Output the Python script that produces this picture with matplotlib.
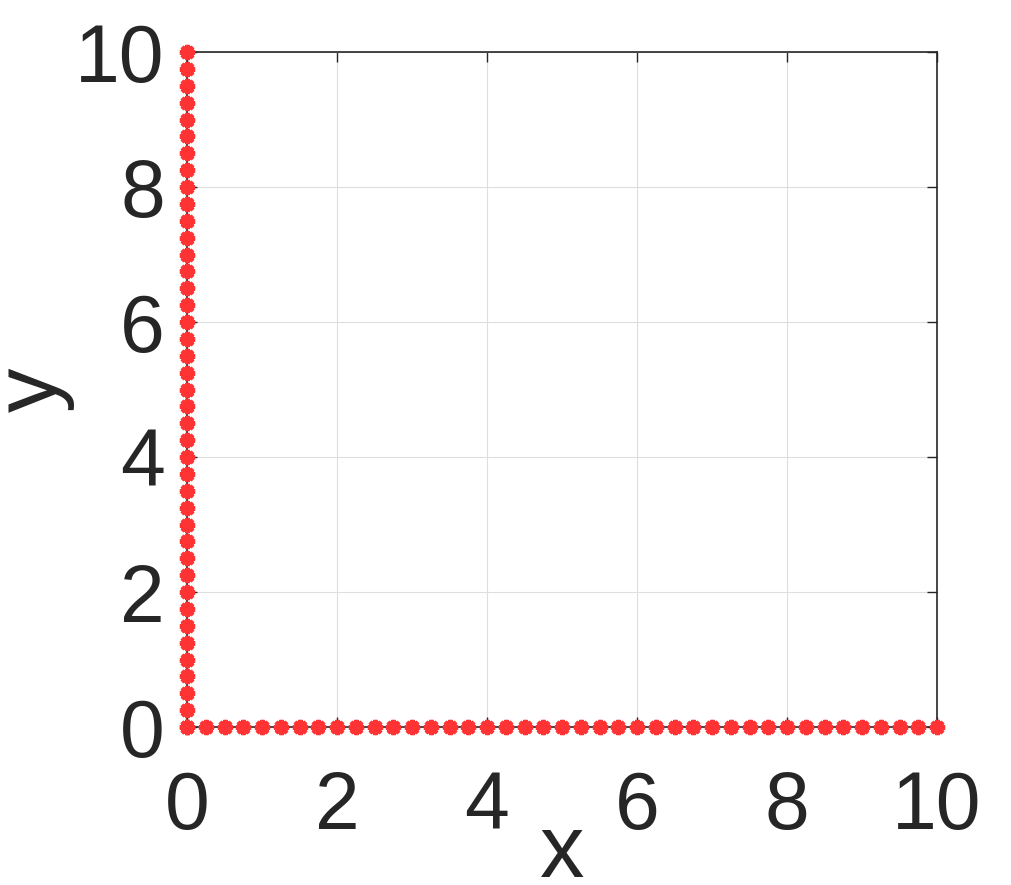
import matplotlib
matplotlib.use('Agg')
import matplotlib.pyplot as plt

# points along the y axis (x = 0) and along the x axis (y = 0)
steps = [0, 0.25, 0.5, 0.75, 1, 1.25, 1.5, 1.75, 2, 2.25, 2.5, 2.75,
         3, 3.25, 3.5, 3.75, 4, 4.25, 4.5, 4.75, 5, 5.25, 5.5, 5.75,
         6, 6.25, 6.5, 6.75, 7, 7.25, 7.5, 7.75, 8, 8.25, 8.5, 8.75,
         9, 9.25, 9.5, 9.75, 10]
zeros = [0] * len(steps)
ticks = [0, 2, 4, 6, 8, 10]

plt.rcParams['font.family'] = ['Liberation Sans', 'DejaVu Sans']

fig = plt.figure(figsize=(10.12, 8.85), dpi=100)
ax = fig.add_axes([0.1848, 0.1785, 0.7411, 0.7627])

red = '#ff3333'
star = (8, 2, 0)
ax.plot(zeros, steps, linestyle='none', marker=star, markersize=11,
        markeredgewidth=3, color=red, markeredgecolor=red, clip_on=False, zorder=5)
ax.plot(steps, zeros, linestyle='none', marker=star, markersize=11,
        markeredgewidth=3, color=red, markeredgecolor=red, clip_on=False, zorder=5)

ax.set_xlim(0, 10)
ax.set_ylim(0, 10)
ax.set_xticks(ticks)
ax.set_yticks(ticks)
ax.grid(True, color='#dedede', linewidth=0.8)
ax.set_axisbelow(True)

for s in ax.spines.values():
    s.set_color('#262626')
    s.set_linewidth(1.2)

ax.tick_params(direction='in', length=7, width=1, colors='#262626',
               labelsize=58, top=True, right=True)
ax.tick_params(axis='x', pad=31)
ax.tick_params(axis='y', pad=16)

ax.set_xlabel('x', fontsize=64, color='#262626', va='top')
ax.set_ylabel('y', fontsize=64, color='#262626')
ax.xaxis.set_label_coords(0.5, -0.126)
ax.yaxis.set_label_coords(-0.149, 0.5)

fig.savefig('out.png', dpi=100)
